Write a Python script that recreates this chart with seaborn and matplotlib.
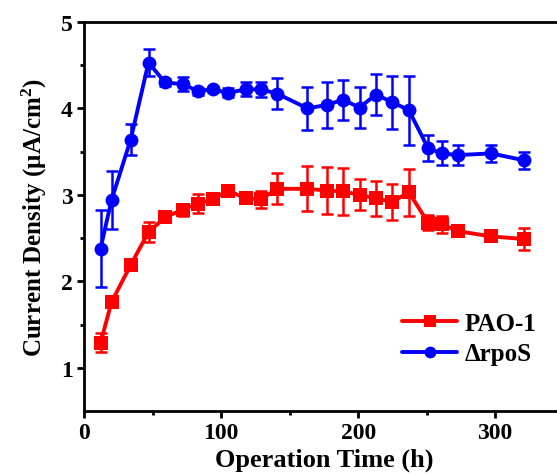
import matplotlib
matplotlib.use("Agg")
import matplotlib.pyplot as plt
import seaborn as sns
import pandas as pd

# ---------------------------------------------------------------------------
# Data
# ---------------------------------------------------------------------------
time_h = [12, 20, 34, 47, 59, 72, 83, 94, 105, 118, 129, 141,
          163, 177, 189, 201, 213, 225, 237, 251, 261, 273, 297, 321]

pao1_mean = [1.29, 1.76, 2.19, 2.57, 2.74, 2.83, 2.90, 2.95, 3.05, 2.96, 2.95, 3.07,
             3.07, 3.05, 3.04, 3.00, 2.96, 2.92, 3.03, 2.68, 2.66, 2.58, 2.52, 2.49]
pao1_err = [0.11, 0.03, 0.03, 0.12, 0.03, 0.07, 0.11, 0.03, 0.03, 0.04, 0.10, 0.18,
            0.26, 0.27, 0.27, 0.18, 0.20, 0.21, 0.27, 0.09, 0.10, 0.05, 0.03, 0.13]

rpos_mean = [2.38, 2.94, 3.64, 4.53, 4.30, 4.28, 4.20, 4.22, 4.18, 4.22, 4.22, 4.17,
             4.00, 4.04, 4.10, 4.01, 4.16, 4.07, 3.98, 3.54, 3.48, 3.46, 3.48, 3.40]
rpos_err = [0.44, 0.34, 0.18, 0.16, 0.04, 0.08, 0.04, 0.03, 0.05, 0.08, 0.09, 0.18,
            0.25, 0.27, 0.23, 0.24, 0.24, 0.31, 0.40, 0.15, 0.14, 0.12, 0.10, 0.10]

strains = ["PAO-1", "\u0394rpoS"]
colors = {"PAO-1": "#ff0000", "\u0394rpoS": "#0000ff"}
markers = {"PAO-1": "s", "\u0394rpoS": "o"}

df = pd.concat([
    pd.DataFrame({"Time": time_h, "Current": pao1_mean, "Err": pao1_err, "Strain": strains[0]}),
    pd.DataFrame({"Time": time_h, "Current": rpos_mean, "Err": rpos_err, "Strain": strains[1]}),
], ignore_index=True)

sns.set_style("ticks")
plt.rcParams["font.family"] = ["Liberation Serif", "DejaVu Serif"]
plt.rcParams["font.weight"] = "bold"
plt.rcParams["text.color"] = "black"
plt.rcParams["axes.labelcolor"] = "black"
plt.rcParams["xtick.color"] = "black"
plt.rcParams["ytick.color"] = "black"
plt.rcParams["mathtext.fontset"] = "custom"
plt.rcParams["mathtext.rm"] = "Liberation Serif:bold"
plt.rcParams["mathtext.bf"] = "Liberation Serif:bold"
plt.rcParams["mathtext.default"] = "bf"

fig = plt.figure(figsize=(5.57, 4.77), dpi=100)
ax = fig.add_axes([0.151, 0.136, 0.861, 0.816])

# error bars first, then lines + markers on top
for s in strains:
    sub = df[df["Strain"] == s]
    ax.errorbar(sub["Time"], sub["Current"], yerr=sub["Err"], fmt="none",
                ecolor=colors[s], elinewidth=1.8, capsize=4.5, capthick=1.8, zorder=2)

sns.lineplot(data=df, x="Time", y="Current", hue="Strain", style="Strain",
             palette=colors, markers=markers, dashes=False, linewidth=2.8,
             markersize=10, markeredgewidth=0, ax=ax, zorder=3)

ax.set_xlim(0, 350)
ax.set_ylim(0.5, 5)
ax.set_xticks([0, 100, 200, 300])
ax.set_xticks([50, 150, 250], minor=True)
ax.set_yticks([1, 2, 3, 4, 5])
ax.set_yticks([1.5, 2.5, 3.5, 4.5], minor=True)
ax.tick_params(axis="both", which="major", direction="out", length=5, width=2,
               labelsize=17, pad=3)
ax.tick_params(axis="both", which="minor", direction="out", length=3, width=2)
for lab in ax.get_xticklabels() + ax.get_yticklabels():
    lab.set_fontweight("bold")
for sp in ax.spines.values():
    sp.set_linewidth(2)
    sp.set_color("black")

ax.set_xlabel("Operation Time (h)", fontsize=19, fontweight="bold", labelpad=3)
ax.set_ylabel("Current Density (\u03bcA/cm$^{2}$)", fontsize=18, fontweight="bold", labelpad=9)

handles, labels = ax.get_legend_handles_labels()
ax.legend(handles, labels, loc="lower right", bbox_to_anchor=(0.99, 0.06),
          frameon=False, handlelength=2.2, handletextpad=0.3,
          labelspacing=0.3, markerscale=0.85, prop={"weight": "bold", "size": 18})

fig.savefig("out.png", dpi=100)
